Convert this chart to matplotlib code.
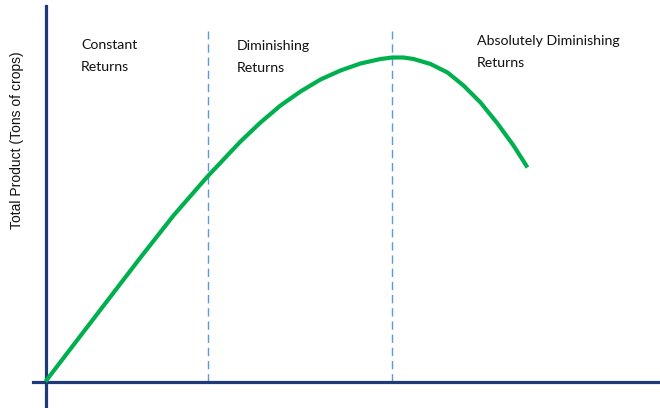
import matplotlib
matplotlib.use("Agg")
import matplotlib.pyplot as plt

# Data (labour input vs total product, arbitrary units)
labour = [0, 95, 128, 162, 195, 215, 235, 255, 275, 295, 315, 335, 347, 358,
          368, 385, 402, 418, 435, 452, 468, 482]
total_product = [0, 124, 166, 205, 240, 259, 276, 290, 302, 311, 318, 322.5, 324, 324,
                 322.5, 317.5, 309, 296, 279, 258, 236, 214]
stage_bounds = [162, 346]
stage_labels = ["Constant\nReturns", "Diminishing\nReturns", "Absolutely Diminishing\nReturns"]
y_label = "Total Product (Tons of crops)"

W, H = 660, 408
fig = plt.figure(figsize=(W / 100, H / 100), dpi=100)
ax = fig.add_axes([0, 0, 1, 1])
ax.set_xlim(-45.5, W - 45.5)
ax.set_ylim(381.5 - H, 381.5)
ax.patch.set_alpha(0)

navy = "#1F3A78"
for s in ["top", "right"]:
    ax.spines[s].set_visible(False)
ax.spines["left"].set_position(("data", 0))
ax.spines["bottom"].set_position(("data", 0))
ax.spines["left"].set_bounds(381.5 - H, 376)
ax.spines["bottom"].set_bounds(-13, W - 45)
for s in ["left", "bottom"]:
    ax.spines[s].set_color(navy)
    ax.spines[s].set_linewidth(2.3)
ax.set_xticks([])
ax.set_yticks([])

for xb in stage_bounds:
    ax.plot([xb, xb], [0, 351], color="#5B9BD5", lw=1.0,
            dashes=(6, 3.5), zorder=1)

ax.plot(labour, total_product, color="#00B04F", lw=3.0,
        solid_capstyle="butt", solid_joinstyle="round", zorder=3)

font = "Lato"
def ftext(px, py, s, **kw):
    fig.text(px / W, 1 - py / H, s, **kw)

label_pos = [(81, 49), (237, 50), (477, 45)]
for (px, py), lab in zip(label_pos, stage_labels):
    l1, l2 = lab.split("\n")
    ftext(px, py, l1, fontsize=10.2, family=font, va="baseline", ha="left", color="#111111")
    ftext(px, py + 22, l2, fontsize=10.2, family=font, va="baseline", ha="left", color="#111111")

ftext(17, 140, y_label, rotation=90, fontsize=10, family="Liberation Sans",
      va="center", ha="center", color="#111111")

fig.savefig("out.png", dpi=100)
